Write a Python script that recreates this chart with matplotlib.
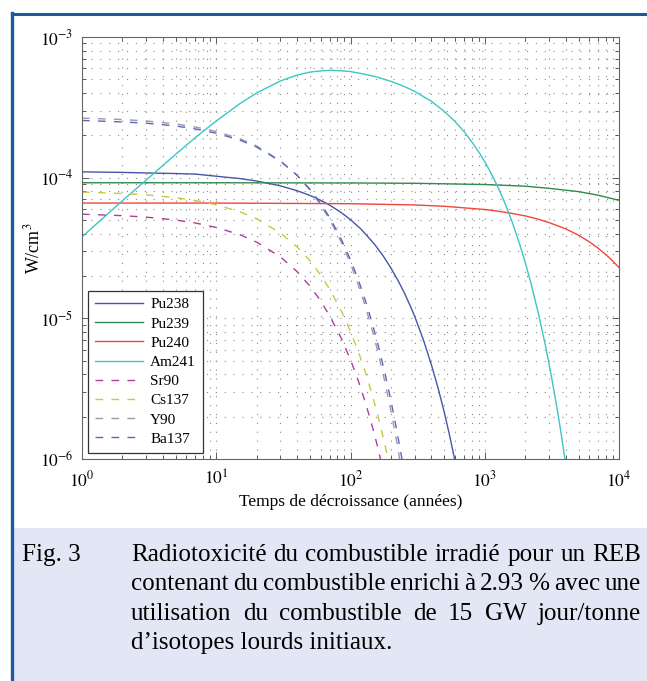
import numpy as np
import matplotlib as mpl
mpl.use('Agg')
import matplotlib.pyplot as plt
import matplotlib.ticker as mticker
from matplotlib.patches import Rectangle
from matplotlib.lines import Line2D

plt.rcParams['font.family'] = ['Liberation Serif', 'DejaVu Serif']
plt.rcParams['mathtext.fontset'] = 'stix'

# values (years, W/cm3)
t_pu238 = [1, 2, 3, 5, 7, 10, 15, 20, 30, 40, 50, 60, 70, 85, 100, 120, 150, 175, 200, 225, 250, 275,
           300, 350, 400, 450, 500, 550, 600, 650]
v_pu238 = [1.10e-4, 1.09e-4, 1.08e-4, 1.07e-4, 1.06e-4, 1.024e-4, 9.85e-5, 9.47e-5, 8.75e-5, 8.08e-5,
           7.47e-5, 6.9e-5, 6.38e-5, 5.66e-5, 5.03e-5, 4.3e-5, 3.39e-5, 2.78e-5, 2.28e-5, 1.87e-5,
           1.54e-5, 1.26e-5, 1.04e-5, 6.98e-6, 4.7e-6, 3.17e-6, 2.14e-6, 1.44e-6, 9.7e-7, 6.5e-7]

t_pu239 = [1, 10, 100, 300, 1000, 2000, 3000, 5000, 7000, 10000]
v_pu239 = [9.2e-5, 9.2e-5, 9.17e-5, 9.12e-5, 8.94e-5, 8.7e-5, 8.4e-5, 7.96e-5, 7.5e-5, 6.9e-5]

t_pu240 = [1, 10, 100, 300, 500, 1000, 1200, 1500, 2000, 2500, 3000, 4000, 5000, 6000, 7000, 8500, 10000]
v_pu240 = [6.6e-5, 6.6e-5, 6.53e-5, 6.4e-5, 6.26e-5, 5.94e-5, 5.81e-5, 5.63e-5, 5.35e-5, 5.07e-5,
           4.8e-5, 4.33e-5, 3.9e-5, 3.5e-5, 3.15e-5, 2.69e-5, 2.3e-5]

t_am241 = [1, 2, 3, 5, 7, 10, 15, 20, 30, 40, 50, 60, 70, 85, 100, 120, 150, 200, 250, 300, 400, 500,
           600, 700, 800, 900, 1000, 1100, 1200, 1300, 1400, 1500, 1600, 1800, 2000, 2200, 2500, 2800,
           3000, 3200, 3500, 3700, 4000]
v_am241 = [3.8e-5, 6.85e-5, 9.6e-5, 1.47e-4, 1.93e-4, 2.53e-4, 3.36e-4, 4.0e-4, 4.87e-4, 5.36e-4,
           5.63e-4, 5.74e-4, 5.8e-4, 5.75e-4, 5.68e-4, 5.5e-4, 5.26e-4, 4.84e-4, 4.46e-4, 4.11e-4,
           3.49e-4, 2.96e-4, 2.51e-4, 2.13e-4, 1.80e-4, 1.53e-4, 1.30e-4, 1.10e-4, 9.35e-5, 7.93e-5,
           6.73e-5, 5.7e-5, 4.84e-5, 3.48e-5, 2.51e-5, 1.80e-5, 1.10e-5, 6.73e-6, 4.84e-6, 3.48e-6,
           2.13e-6, 1.53e-6, 9.3e-7]

t_fp = [1, 2, 3, 5, 7, 10, 15, 20, 30, 40, 50, 60, 70, 85, 100, 115, 130, 145, 160, 180, 200, 220, 240, 260]
v_sr90 = [5.5e-5, 5.37e-5, 5.24e-5, 5.0e-5, 4.76e-5, 4.43e-5, 3.93e-5, 3.48e-5, 2.74e-5, 2.15e-5,
          1.69e-5, 1.33e-5, 1.04e-5, 7.28e-6, 5.08e-6, 3.54e-6, 2.47e-6, 1.72e-6, 1.2e-6, 7.4e-7,
          None, None, None, None]
v_cs137 = [7.9e-5, 7.72e-5, 7.54e-5, 7.21e-5, 6.88e-5, 6.42e-5, 5.72e-5, 5.1e-5, 4.05e-5, 3.22e-5,
           2.56e-5, 2.03e-5, 1.61e-5, 1.14e-5, 8.07e-6, 5.72e-6, 4.04e-6, 2.87e-6, 2.03e-6, 1.28e-6,
           8.0e-7, None, None, None]
v_y90 = [2.65e-4, 2.59e-4, 2.53e-4, 2.41e-4, 2.29e-4, 2.13e-4, 1.89e-4, 1.68e-4, 1.32e-4, 1.04e-4,
         8.15e-5, 6.4e-5, 5.03e-5, 3.51e-5, 2.45e-5, 1.70e-5, 1.19e-5, 8.27e-6, 5.78e-6, 3.56e-6,
         2.2e-6, 1.36e-6, 8.4e-7, None]
v_ba137 = [2.55e-4, 2.49e-4, 2.44e-4, 2.33e-4, 2.22e-4, 2.07e-4, 1.85e-4, 1.65e-4, 1.31e-4, 1.04e-4,
           8.25e-5, 6.55e-5, 5.21e-5, 3.68e-5, 2.61e-5, 1.85e-5, 1.31e-5, 9.26e-6, 6.55e-6, 4.13e-6,
           2.6e-6, 1.64e-6, 1.04e-6, 6.55e-7]

caption_lines = [
    "Radiotoxicité du combustible irradié pour un REB",
    "contenant du combustible enrichi à 2.93 % avec une",
    "utilisation du combustible de 15 GW jour/tonne",
    "d’isotopes lourds initiaux.",
]

W, H = 647, 681
fig = plt.figure(figsize=(W / 100, H / 100), dpi=100)

# page decorations: blue frame and the caption box
blue = '#1b5a9c'
fig.add_artist(Rectangle((14 / W, 0), (W - 14) / W, 1 - 528 / H, transform=fig.transFigure,
                         facecolor='#e3e6f4', edgecolor='none'))
fig.add_artist(Line2D([12 / W, 1], [1 - 14 / H] * 2, transform=fig.transFigure, color=blue, lw=2.2))
fig.add_artist(Line2D([12 / W] * 2, [0, 1 - 13 / H], transform=fig.transFigure, color=blue, lw=2.4))

ax = fig.add_axes([82 / W, 1 - 459 / H, (619 - 82) / W, (459 - 37) / H])


def clean(t, v):
    pts = [(a, b) for a, b in zip(t, v) if b is not None]
    return [p[0] for p in pts], [p[1] for p in pts]


dash = (0, (5.5, 6))
series = [
    ('Pu238', t_pu238, v_pu238, '#4656a8', '-'),
    ('Pu239', t_pu239, v_pu239, '#2f8a4c', '-'),
    ('Pu240', t_pu240, v_pu240, '#f0453c', '-'),
    ('Am241', t_am241, v_am241, '#3cc6c4', '-'),
    ('Sr90', t_fp, v_sr90, '#b03c9c', dash),
    ('Cs137', t_fp, v_cs137, '#c8c83c', dash),
    ('Y90', t_fp, v_y90, '#9a9aa6', dash),
    ('Ba137', t_fp, v_ba137, '#5868bc', dash),
]
for name, t, v, c, ls in series:
    tx, vy = clean(t, v)
    ax.plot(tx, vy, color=c, ls=ls, lw=1.0, label=name)

ax.set_xscale('log')
ax.set_yscale('log')
ax.set_xlim(1, 1e4)
ax.set_ylim(1e-6, 1e-3)

fmt = mticker.FuncFormatter(lambda v, p: r'$10^{%d}$' % round(np.log10(v)))
ax.xaxis.set_major_formatter(fmt)
ax.yaxis.set_major_formatter(fmt)
ax.xaxis.set_minor_locator(mticker.LogLocator(base=10, subs=np.arange(2, 10), numticks=20))
ax.yaxis.set_minor_locator(mticker.LogLocator(base=10, subs=np.arange(2, 10), numticks=20))
ax.xaxis.set_minor_formatter(mticker.NullFormatter())
ax.yaxis.set_minor_formatter(mticker.NullFormatter())

ax.tick_params(which='both', direction='in', top=True, right=True, colors='#444444',
               labelcolor='black', labelsize=12.5, width=0.6)
ax.tick_params(which='major', length=5)
ax.tick_params(which='minor', length=3)
ax.tick_params(axis='x', pad=8)
ax.tick_params(axis='y', pad=6)
for s in ax.spines.values():
    s.set_color('#666666')
    s.set_linewidth(0.8)

ax.grid(True, which='both', color='#8a8a8a', ls=(0, (1, 7)), lw=0.8)
ax.set_axisbelow(True)

ax.set_xlabel('Temps de décroissance (années)', fontsize=12.5, labelpad=3)
ax.set_ylabel('W/cm$^3$', fontsize=13, va='center')
ax.yaxis.set_label_coords(-0.091, 0.5)

leg = ax.legend(loc='lower left', fontsize=11, handlelength=3.1, labelspacing=0.36,
                borderpad=0.45, handletextpad=0.5, fancybox=False, framealpha=1,
                bbox_to_anchor=(0, 0), borderaxespad=0.42)
leg.get_frame().set_edgecolor('#333333')
leg.get_frame().set_linewidth(0.9)

# caption, justified by hand like the printed page
fig.canvas.draw()
rend = fig.canvas.get_renderer()


def text_w(s, size):
    tt = fig.text(0, 0, s, fontsize=size)
    w = tt.get_window_extent(rend).width
    tt.remove()
    return w


x0, x1 = 131, 641
fs = 1.03 * 10 * (x1 - x0) / text_w(caption_lines[1], 10)
ys = [555, 584.5, 614, 643.5]
fig.text(22 / W, 1 - ys[0] / H, 'Fig. 3', fontsize=fs, va='center')
for i, line in enumerate(caption_lines):
    words = line.split(' ')
    if i < 3:
        ws = [text_w(wd, fs) for wd in words]
        gap = (x1 - x0 - sum(ws)) / (len(words) - 1)
        x = x0
        for wd, w in zip(words, ws):
            fig.text(x / W, 1 - ys[i] / H, wd, fontsize=fs, va='center')
            x += w + gap
    else:
        fig.text(x0 / W, 1 - ys[i] / H, line, fontsize=fs, va='center')

fig.savefig('out.png', dpi=100)
